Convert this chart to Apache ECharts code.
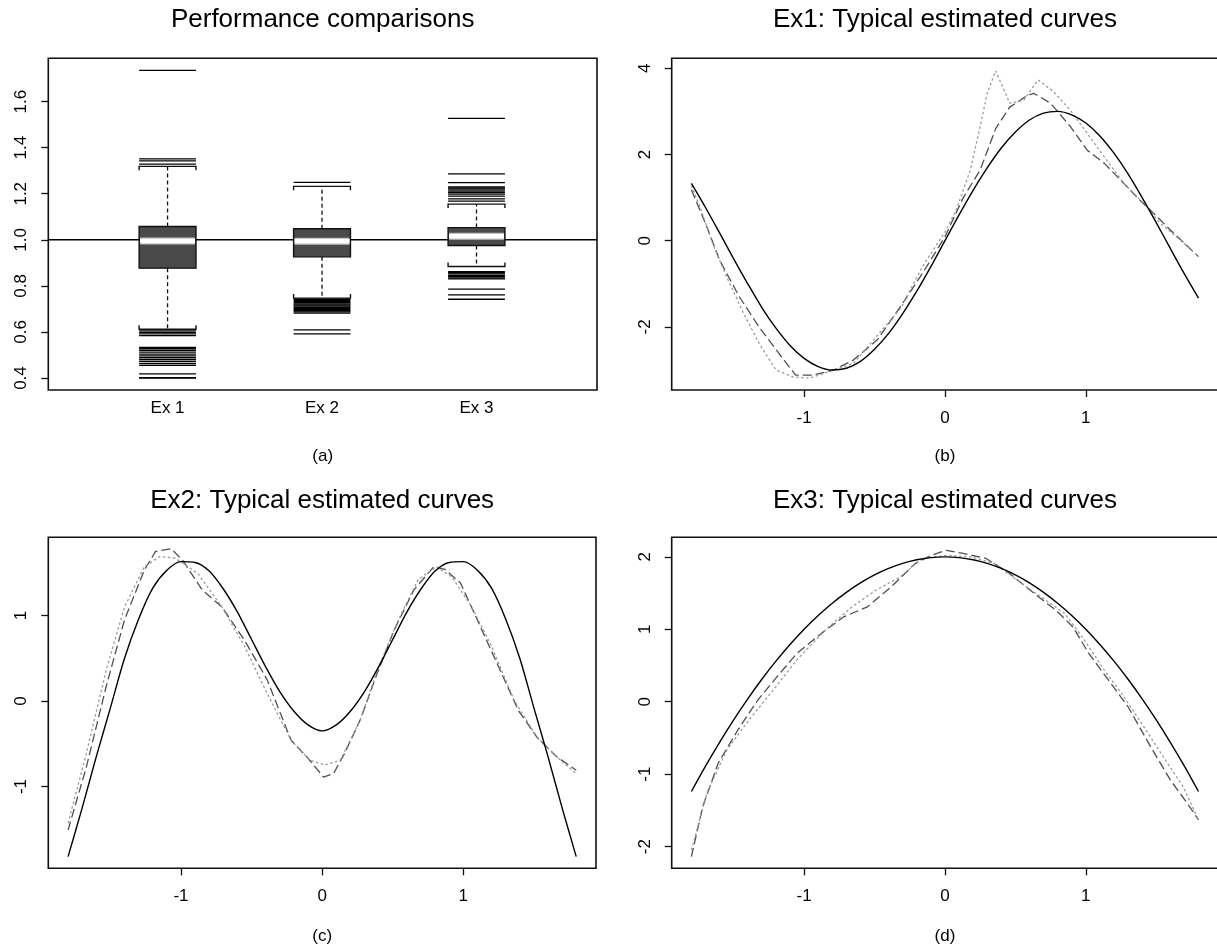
<!DOCTYPE html>
<html><head><meta charset="utf-8">
<script src="https://cdn.jsdelivr.net/npm/echarts@6/dist/echarts.min.js"></script>
<style>html,body{margin:0;padding:0;background:#fff}#chart{width:1217px;height:948px}</style>
</head><body><div id="chart"></div>
<script>
// ---------------- data ----------------
const titles = ['Performance comparisons', 'Ex1: Typical estimated curves', 'Ex2: Typical estimated curves', 'Ex3: Typical estimated curves'];
const panelTags = ['(a)', '(b)', '(c)', '(d)'];

// panel (a) boxplots
const boxNames = ['Ex 1', 'Ex 2', 'Ex 3'];
const boxPos = [1, 2, 3];
const boxQ1 = [0.877, 0.926, 0.975];
const boxMed = [0.995, 0.994, 1.016];
const boxQ3 = [1.058, 1.048, 1.053];
const whiskLo = [0.612, 0.747, 0.884];
const whiskHi = [1.319, 1.232, 1.155];
const outliers1 = [1.736, 1.351, 1.343, 1.329, 0.605, 0.598, 0.592, 0.584, 0.533, 0.527, 0.520, 0.512, 0.504, 0.496, 0.488, 0.480, 0.472, 0.463, 0.455, 0.418, 0.402, 0.400];
const outliers2 = [1.249, 0.742, 0.737, 0.732, 0.727, 0.722, 0.717, 0.712, 0.707, 0.702, 0.697, 0.692, 0.687, 0.682, 0.609, 0.592];
const outliers3 = [1.527, 1.286, 1.248, 1.230, 1.225, 1.220, 1.212, 1.205, 1.198, 1.190, 1.178, 1.168, 0.862, 0.857, 0.852, 0.846, 0.840, 0.835, 0.830, 0.786, 0.761, 0.742];
const refValue = 1.0;
const boxTicks = [0.4, 0.6, 0.8, 1.0, 1.2, 1.4, 1.6];
const boxTickLabels = ['0.4', '0.6', '0.8', '1.0', '1.2', '1.4', '1.6'];

// common x grid for the true curves
const xGrid = [-1.8,-1.7,-1.6,-1.5,-1.4,-1.3,-1.2,-1.1,-1.0,-0.9,-0.8,-0.7,-0.6,-0.5,-0.4,-0.3,-0.2,-0.1,0,0.1,0.2,0.3,0.4,0.5,0.6,0.7,0.8,0.9,1.0,1.1,1.2,1.3,1.4,1.5,1.6,1.7,1.8];
const curveXTicks = [-1, 0, 1];
const curveXLabels = ['-1', '0', '1'];

// panel (b) Ex1
const ex1True = [1.33,0.77,0.18,-0.42,-1.0,-1.55,-2.03,-2.43,-2.73,-2.92,-3.0,-2.96,-2.80,-2.52,-2.15,-1.69,-1.17,-0.6,0,0.6,1.17,1.69,2.15,2.52,2.80,2.96,3.0,2.92,2.73,2.43,2.03,1.55,1.0,0.42,-0.18,-0.77,-1.33];
const ex1DashX = [-1.80,-1.69,-1.60,-1.46,-1.32,-1.18,-1.06,-0.94,-0.79,-0.65,-0.48,-0.31,-0.16,0.00,0.13,0.25,0.36,0.46,0.58,0.63,0.75,0.89,1.01,1.13,1.27,1.36,1.48,1.60,1.80];
const ex1DashY = [1.18,0.32,-0.45,-1.30,-2.00,-2.61,-3.12,-3.12,-3.00,-2.77,-2.30,-1.50,-0.76,0.09,1.00,1.64,2.60,3.10,3.36,3.42,3.19,2.65,2.10,1.80,1.33,1.02,0.64,0.25,-0.37];
const ex1DotX = [-1.80,-1.74,-1.65,-1.55,-1.43,-1.32,-1.20,-1.08,-0.96,-0.79,-0.65,-0.48,-0.31,-0.16,0.00,0.08,0.18,0.25,0.30,0.36,0.46,0.56,0.66,0.77,0.89,1.01,1.13,1.27,1.41,1.53,1.67,1.80];
const ex1DotY = [1.28,0.79,-0.06,-0.84,-1.68,-2.38,-3.00,-3.16,-3.19,-3.00,-2.85,-2.20,-1.55,-0.60,0.20,0.71,1.64,2.65,3.42,3.94,3.19,3.26,3.73,3.46,3.03,2.49,1.95,1.33,0.87,0.40,0.02,-0.37];
const ex1YTicks = [-2, 0, 2, 4];
const ex1YLabels = ['-2', '0', '2', '4'];

// panel (c) Ex2
const ex2True = [-1.82,-1.25,-0.65,-0.08,0.50,0.96,1.32,1.53,1.63,1.62,1.52,1.31,1.04,0.72,0.40,0.11,-0.12,-0.28,-0.35,-0.28,-0.12,0.11,0.40,0.72,1.04,1.31,1.52,1.62,1.63,1.53,1.32,0.96,0.50,-0.08,-0.65,-1.25,-1.82];
const ex2DashX = [-1.80,-1.67,-1.53,-1.40,-1.26,-1.18,-1.07,-0.99,-0.85,-0.71,-0.55,-0.39,-0.22,-0.11,0.01,0.08,0.16,0.27,0.38,0.51,0.65,0.79,0.87,0.98,1.11,1.25,1.39,1.52,1.66,1.80];
const ex2DashY = [-1.51,-0.77,0.17,0.95,1.53,1.75,1.78,1.65,1.30,1.10,0.71,0.25,-0.46,-0.65,-0.89,-0.85,-0.61,-0.22,0.28,0.83,1.30,1.57,1.54,1.38,0.91,0.40,-0.11,-0.42,-0.65,-0.81];
const ex2DotX = [-1.80,-1.67,-1.53,-1.40,-1.26,-1.15,-1.04,-0.88,-0.71,-0.55,-0.39,-0.22,-0.09,0.02,0.13,0.27,0.40,0.54,0.68,0.81,0.92,1.06,1.20,1.36,1.52,1.66,1.80];
const ex2DotY = [-1.43,-0.61,0.36,1.10,1.57,1.69,1.67,1.49,1.10,0.64,0.09,-0.46,-0.69,-0.75,-0.69,-0.22,0.40,0.95,1.42,1.57,1.45,1.10,0.64,0.01,-0.42,-0.65,-0.85];
const ex2YTicks = [-1, 0, 1];
const ex2YLabels = ['-1', '0', '1'];

// panel (d) Ex3
const ex3True = [-1.24,-0.89,-0.56,-0.25,0.04,0.31,0.56,0.79,1.0,1.19,1.36,1.51,1.64,1.75,1.84,1.91,1.96,1.99,2.0,1.99,1.96,1.91,1.84,1.75,1.64,1.51,1.36,1.19,1.0,0.79,0.56,0.31,0.04,-0.25,-0.56,-0.89,-1.24];
const ex3DashX = [-1.80,-1.72,-1.61,-1.47,-1.33,-1.19,-1.05,-0.88,-0.72,-0.55,-0.38,-0.21,-0.10,0.01,0.12,0.29,0.46,0.63,0.79,0.91,1.02,1.16,1.30,1.46,1.60,1.72,1.80];
const ex3DashY = [-2.14,-1.45,-0.85,-0.39,0.02,0.35,0.67,0.94,1.17,1.31,1.59,1.91,2.02,2.09,2.05,1.98,1.77,1.50,1.26,1.03,0.67,0.30,-0.07,-0.62,-1.08,-1.40,-1.63];
const ex3DotX = [-1.80,-1.69,-1.55,-1.39,-1.22,-1.05,-0.85,-0.66,-0.49,-0.32,-0.16,0.01,0.18,0.35,0.51,0.68,0.85,0.99,1.13,1.27,1.41,1.55,1.69,1.80];
const ex3DotY = [-2.05,-1.26,-0.67,-0.25,0.16,0.58,0.99,1.31,1.54,1.72,1.98,2.02,2.00,1.91,1.68,1.45,1.22,0.85,0.44,0.07,-0.34,-0.76,-1.17,-1.63];
const ex3YTicks = [-2, -1, 0, 1, 2];
const ex3YLabels = ['-2', '-1', '0', '1', '2'];

// ---------------- layout / style ----------------
const FONT = '"Liberation Sans", Arial, Helvetica, sans-serif';
const INK = '#111';
const BOX_HW = 0.184;
const gridBoxes = [
  {left: 48.3, top: 58.3, width: 548.7, height: 331.7},
  {left: 671.7, top: 58.3, width: 546.5, height: 331.7},
  {left: 48.3, top: 537.3, width: 547.7, height: 331},
  {left: 671.7, top: 537.3, width: 546.5, height: 331}
];
const ranges = [
  {x: [0.228, 3.78], y: [0.348, 1.788]},
  {x: [-1.94, 1.94], y: [-3.464, 4.232]},
  {x: [-1.94, 1.94], y: [-1.957, 1.915]},
  {x: [-1.94, 1.94], y: [-2.30, 2.27]}
];
const TICK_FS = 17;

function lookup(ticks, labels) {
  return function (v) {
    for (let i = 0; i < ticks.length; i++) if (Math.abs(ticks[i] - v) < 1e-9) return labels[i];
    return '';
  };
}

function makeX(gi, ticks, labels, showTicks, margin) {
  return {
    type: 'value', gridIndex: gi, position: 'bottom', min: ranges[gi].x[0], max: ranges[gi].x[1],
    splitLine: {show: false}, axisLine: {show: false, onZero: false},
    axisTick: {show: showTicks, customValues: ticks, length: 7, lineStyle: {color: INK, width: 1.3}},
    axisLabel: {customValues: ticks, formatter: lookup(ticks, labels), margin: margin,
      fontSize: TICK_FS, color: '#000', fontFamily: FONT}
  };
}
function makeY(gi, ticks, labels) {
  return {
    type: 'value', gridIndex: gi, position: 'left', min: ranges[gi].y[0], max: ranges[gi].y[1],
    splitLine: {show: false}, axisLine: {show: false, onZero: false},
    axisTick: {show: true, customValues: ticks, length: 7, lineStyle: {color: INK, width: 1.3}},
    axisLabel: {customValues: ticks, formatter: lookup(ticks, labels), rotate: 90, margin: 18,
      fontSize: TICK_FS, color: '#000', fontFamily: FONT}
  };
}

function pairs(xs, ys) { return xs.map((x, i) => [x, ys[i]]); }

const lineStyles = {
  solid: {color: '#000', width: 1.4, type: 'solid'},
  dash: {color: '#4f4f4f', width: 1.3, type: [9, 4]},
  dot: {color: '#9a9a9a', width: 1.3, type: [2.5, 2.5]}
};
function lineSeries(gi, data, kind) {
  return {type: 'line', xAxisIndex: gi, yAxisIndex: gi, data: data, showSymbol: false, symbol: 'none',
    smooth: kind === 'solid' ? 0.3 : false, smoothConstraint: false,
    lineStyle: lineStyles[kind], silent: true, z: kind === 'solid' ? 3 : 2, clip: true};
}

// box drawing
function renderBox(params, api) {
  const x = api.value(0), q1 = api.value(1), med = api.value(2), q3 = api.value(3), lo = api.value(4), hi = api.value(5);
  const L = api.coord([x - BOX_HW, q1])[0], R = api.coord([x + BOX_HW, q1])[0], C = api.coord([x, q1])[0];
  const yQ1 = api.coord([x, q1])[1], yQ3 = api.coord([x, q3])[1], yM = api.coord([x, med])[1];
  const yLo = api.coord([x, lo])[1], yHi = api.coord([x, hi])[1];
  const dashStyle = {stroke: INK, lineWidth: 1.3, lineDash: [4, 3]};
  const solid = {stroke: INK, lineWidth: 1.4, fill: null};
  return {type: 'group', children: [
    {type: 'line', shape: {x1: C, y1: yQ3, x2: C, y2: yHi}, style: dashStyle},
    {type: 'line', shape: {x1: C, y1: yQ1, x2: C, y2: yLo}, style: dashStyle},
    {type: 'polyline', shape: {points: [[L, yHi + 4], [L, yHi], [R, yHi], [R, yHi + 4]]}, style: solid},
    {type: 'polyline', shape: {points: [[L, yLo - 4], [L, yLo], [R, yLo], [R, yLo - 4]]}, style: solid},
    {type: 'rect', shape: {x: L, y: yQ3, width: R - L, height: yQ1 - yQ3}, style: {fill: '#4a4a4a', stroke: INK, lineWidth: 1.4}},
    {type: 'line', shape: {x1: L + 1, y1: yM, x2: R - 1, y2: yM}, style: {stroke: '#c4c4c4', lineWidth: 7}},
    {type: 'line', shape: {x1: L + 1, y1: yM, x2: R - 1, y2: yM}, style: {stroke: '#ffffff', lineWidth: 4.5}}
  ]};
}
function renderOutlier(params, api) {
  const x = api.value(0), v = api.value(1);
  const a = api.coord([x - BOX_HW, v]), b = api.coord([x + BOX_HW, v]);
  return {type: 'line', shape: {x1: a[0], y1: a[1], x2: b[0], y2: b[1]}, style: {stroke: '#000', lineWidth: 1.3}};
}
function renderRef(params, api) {
  const v = api.value(0);
  const cs = params.coordSys;
  const y = api.coord([ranges[0].x[0], v])[1];
  return {type: 'line', shape: {x1: cs.x, y1: y, x2: cs.x + cs.width, y2: y}, style: {stroke: '#000', lineWidth: 1.4}};
}

const boxData = boxPos.map((p, i) => [p, boxQ1[i], boxMed[i], boxQ3[i], whiskLo[i], whiskHi[i]]);
const outlierData = []
  .concat(outliers1.map(v => [boxPos[0], v]))
  .concat(outliers2.map(v => [boxPos[1], v]))
  .concat(outliers3.map(v => [boxPos[2], v]));

const grids = gridBoxes.map(g => Object.assign({
  show: true, borderColor: INK, borderWidth: 1.6, backgroundColor: 'transparent',
  containLabel: false, outerBoundsMode: 'none'
}, g));

const centers = gridBoxes.map(g => g.left + g.width / 2);
const titleY = [20, 20, 501, 501];
const tagY = [456, 456, 936, 936];
const graphics = [];
for (let i = 0; i < 4; i++) {
  graphics.push({type: 'text', x: centers[i], y: titleY[i], silent: true,
    style: {text: titles[i], fill: '#000', fontSize: 26, fontFamily: FONT, align: 'center', verticalAlign: 'middle', textAlign: 'center', textVerticalAlign: 'middle'}});
  graphics.push({type: 'text', x: centers[i], y: tagY[i], silent: true,
    style: {text: panelTags[i], fill: '#000', fontSize: 17, fontFamily: FONT, align: 'center', verticalAlign: 'middle', textAlign: 'center', textVerticalAlign: 'middle'}});
}

const option = {
  animation: false,
  backgroundColor: '#fff',
  grid: grids,
  xAxis: [
    makeX(0, boxPos, boxNames, false, 10),
    makeX(1, curveXTicks, curveXLabels, true, 20),
    makeX(2, curveXTicks, curveXLabels, true, 20),
    makeX(3, curveXTicks, curveXLabels, true, 20)
  ],
  yAxis: [
    makeY(0, boxTicks, boxTickLabels),
    makeY(1, ex1YTicks, ex1YLabels),
    makeY(2, ex2YTicks, ex2YLabels),
    makeY(3, ex3YTicks, ex3YLabels)
  ],
  graphic: graphics,
  series: [
    {type: 'custom', xAxisIndex: 0, yAxisIndex: 0, data: [[refValue]], renderItem: renderRef, z: 1, silent: true, encode: {y: 0}},
    {type: 'custom', xAxisIndex: 0, yAxisIndex: 0, data: boxData, renderItem: renderBox, z: 2, silent: true, encode: {x: 0, y: [1, 2, 3, 4, 5]}},
    {type: 'custom', xAxisIndex: 0, yAxisIndex: 0, data: outlierData, renderItem: renderOutlier, z: 3, silent: true, encode: {x: 0, y: 1}},
    lineSeries(1, pairs(xGrid, ex1True), 'solid'),
    lineSeries(1, pairs(ex1DashX, ex1DashY), 'dash'),
    lineSeries(1, pairs(ex1DotX, ex1DotY), 'dot'),
    lineSeries(2, pairs(xGrid, ex2True), 'solid'),
    lineSeries(2, pairs(ex2DashX, ex2DashY), 'dash'),
    lineSeries(2, pairs(ex2DotX, ex2DotY), 'dot'),
    lineSeries(3, pairs(xGrid, ex3True), 'solid'),
    lineSeries(3, pairs(ex3DashX, ex3DashY), 'dash'),
    lineSeries(3, pairs(ex3DotX, ex3DotY), 'dot')
  ]
};

const chart = echarts.init(document.getElementById('chart'), null, {renderer: 'canvas'});
chart.setOption(option);
</script>
</body></html>
